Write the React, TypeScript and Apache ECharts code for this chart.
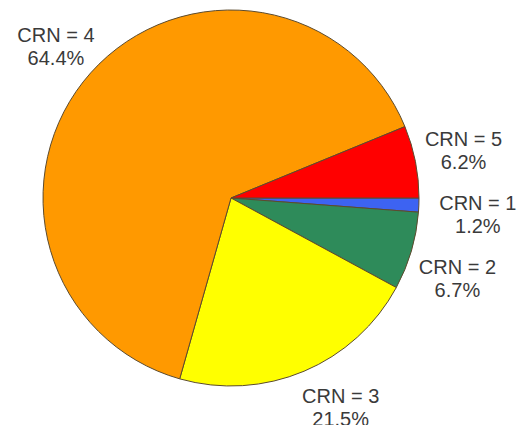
import React, { useEffect, useRef } from "react";
import * as echarts from "echarts";

// Data (percentages), in clockwise order starting at 3 o'clock
const categories = ["CRN = 1", "CRN = 2", "CRN = 3", "CRN = 4", "CRN = 5"];
const shares = [1.2, 6.7, 21.5, 64.4, 6.2];
const sliceColors = ["#3d63f2", "#2e8b5a", "#ffff00", "#ff9900", "#ff0000"];

// Layout / style constants
const CX = 231;
const CY = 198;
const R = 188;
const LABEL_RX = 236;
const LABEL_RY = 227;
// small manual label nudges (style tweak, per slice)
const labelNudgeX = [11, 0, 18, 1, 1];
const labelNudgeY = [8, 16, 0, 0, -4];

export default function App() {
  const ref = useRef<HTMLDivElement>(null);

  useEffect(() => {
    if (!ref.current) return;
    const chart = echarts.init(ref.current, undefined, { renderer: "svg" });
    const total = shares.reduce((a, b) => a + b, 0);
    const midAngles: number[] = [];
    let acc = 0;
    shares.forEach((v) => {
      midAngles.push((-360 * (acc + v / 2)) / total);
      acc += v;
    });

    chart.setOption({
      animation: false,
      backgroundColor: "#ffffff",
      series: [
        {
          type: "pie",
          center: [CX, CY],
          radius: [0, R],
          startAngle: 0,
          clockwise: true,
          silent: true,
          avoidLabelOverlap: false,
          emphasis: { disabled: true },
          itemStyle: { borderColor: "#5c4b2e", borderWidth: 1 },
          label: {
            show: true,
            position: "outside",
            color: "#3a3a3a",
            fontSize: 20,
            lineHeight: 23,
            fontFamily: "Liberation Sans, Arial, sans-serif",
            align: "center",
            formatter: (p: any) => `${p.name}\n${Number(p.value).toFixed(1)}%`,
          },
          labelLine: { show: false },
          labelLayout: (params: any) => {
            const i = params.dataIndex;
            const a = (midAngles[i] * Math.PI) / 180;
            return {
              x: CX + Math.cos(a) * LABEL_RX + labelNudgeX[i],
              y: CY - Math.sin(a) * LABEL_RY + labelNudgeY[i],
              align: "center",
              verticalAlign: "middle",
            };
          },
          data: categories.map((name, i) => ({
            name,
            value: shares[i],
            itemStyle: { color: sliceColors[i] },
          })),
        },
      ],
    });
    return () => chart.dispose();
  }, []);

  return (
    <div
      ref={ref}
      style={{ position: "fixed", left: 0, top: 0, width: 524, height: 425 }}
    />
  );
}
